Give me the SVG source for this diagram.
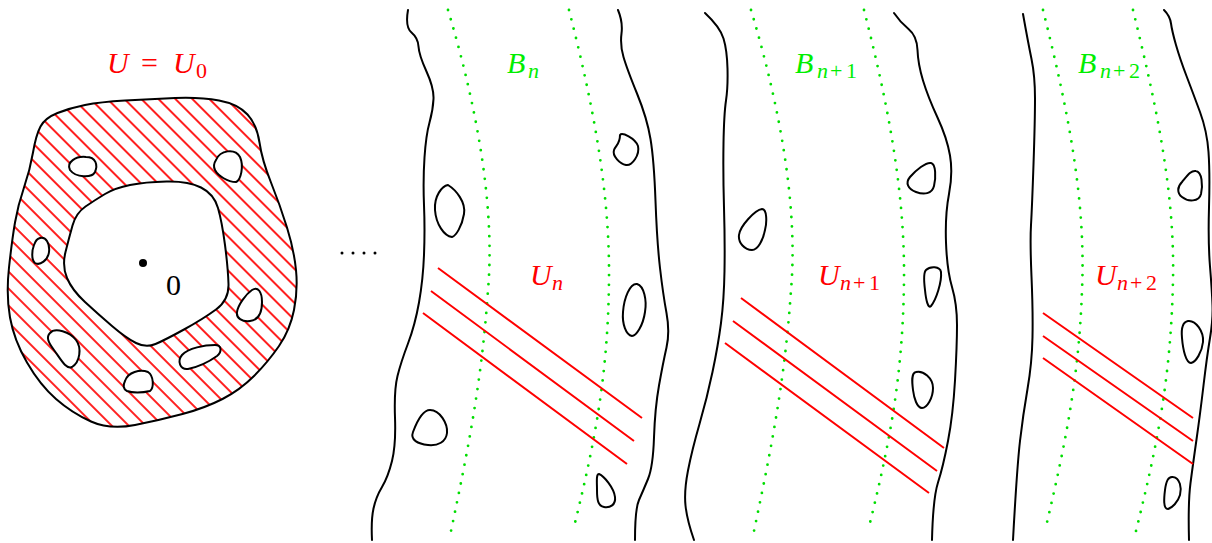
<svg xmlns="http://www.w3.org/2000/svg" width="1212" height="543" viewBox="0 0 1212 543">
<style>
.bk{fill:none;stroke:#000;stroke-width:2;stroke-linejoin:round;stroke-linecap:round}
.hole{fill:#fff;stroke:#000;stroke-width:2;stroke-linejoin:round}
.gr{fill:none;stroke:#00dd00;stroke-width:2.8;stroke-linecap:round;stroke-dasharray:0 9.6}
.rd{fill:none;stroke:#ff0000;stroke-width:2}
.lbl{font-family:"Liberation Serif",serif;font-size:30px}
.it{font-style:italic}
.sub{font-size:22px}
.red{fill:#ff0000}
.grn{fill:#00ee00}
</style>
<defs>
<pattern id="hatch" patternUnits="userSpaceOnUse" width="12" height="12" patternTransform="rotate(-45)">
<rect width="12" height="12" fill="#fff"/>
<line x1="6" y1="-2" x2="6" y2="14" stroke="#ff2020" stroke-width="2"/>
</pattern>
</defs>
<g id="fig-U0">
<path class="bk" style="fill:url(#hatch)" d="M57.5,113 Q70,108 85,105 Q100,102 125,100.5 Q150,99 175,98 Q200,97 219,100.5 Q238,104 247.5,114.5 Q257,125 259.5,142.5 Q262,160 271,182.5 Q280,205 287,227.5 Q294,250 296,270 Q298,290 294,310 Q290,330 279,346 Q268,362 254,376 Q240,390 222.5,399 Q205,408 182.5,414 Q160,420 135,425 Q110,430 91,421.5 Q72,413 56,399 Q40,385 27,362.5 Q14,340 10,317.5 Q6,295 9,267.5 Q12,240 15,222.5 Q18,205 24,187.5 Q30,170 33,152.5 Q36,135 40.5,126.5 Q45,118 57.5,113 Z"/>
<path class="hole" d="M130,185 Q145,182 166.5,181.5 Q188,181 201,187.5 Q214,194 218,208 Q222,222 225,245 Q228,268 228.5,284 Q229,300 216,309.5 Q203,319 184,329.5 Q165,340 155.5,344 Q146,348 136,343 Q126,338 112,326 Q98,314 85,302 Q72,290 67,278 Q62,266 65.5,252 Q69,238 72.5,225.5 Q76,213 85.5,206.5 Q95,200 105,194 Q115,188 130,185 Z"/>
<path class="hole" d="M70,170 C66,162 76,156 86,157 C96,157 98,165 95,172 C92,178 76,178 70,170 Z"/>
<path class="hole" d="M216,160 C220,150 235,148 240,157 C244,166 241,180 236,182 C228,182 218,176 215,170 C213,166 214,163 216,160 Z"/>
<path class="hole" d="M40,238 C46,236 50,244 49,252 C48,260 40,266 35,263 C31,260 32,250 34,245 C36,240 37,239 40,238 Z"/>
<path class="hole" d="M252,290 C258,286 262,292 262,302 C262,314 258,320 250,321 C242,322 236,318 237,312 C238,305 246,294 252,290 Z"/>
<path class="hole" d="M50,333 C55,327 70,332 76,340 C82,348 80,362 72,367 C66,370 60,358 54,350 C48,342 46,337 50,333 Z"/>
<path class="hole" d="M182,355 C188,348 205,345 215,345 C222,345 222,352 217,356 C210,361 198,367 188,369 C180,370 177,361 182,355 Z"/>
<path class="hole" d="M125,381 C128,372 140,369 148,372 C154,376 154,388 150,391 C142,393 132,393 127,391 C123,389 123,385 125,381 Z"/>
<circle cx="143" cy="263" r="4" fill="#000"/>
<text class="lbl" x="166" y="295">0</text>
<text class="lbl red" y="73"><tspan class="it" x="107">U</tspan><tspan x="141">=</tspan><tspan class="it" x="173">U</tspan><tspan class="sub" x="196" y="78">0</tspan></text>
</g>
<g id="ellipsis" fill="#000">
<circle cx="342" cy="253" r="1.5"/><circle cx="353" cy="253" r="1.5"/><circle cx="364" cy="253" r="1.5"/><circle cx="375" cy="253" r="1.5"/>
</g>
<g id="strip-n">
<path class="bk" d="M408,10 Q405,27 411.5,32.5 Q418,38 418.5,46.5 Q419,55 426.5,71.5 Q434,88 433.5,99 Q433,110 429.5,122.5 Q426,135 424.5,157.5 Q423,180 424,205 Q425,230 424,255 Q423,280 419,302.5 Q415,325 408,343.5 Q401,362 397.5,376 Q394,390 395,417.5 Q396,445 392,461 Q388,477 382,487 Q376,497 373.5,508.5 Q371,520 372,540"/>
<path class="bk" d="M618,10 Q623,22 621.5,33.5 Q620,45 623.5,57 Q627,69 637,93.5 Q647,118 650.5,139 Q654,160 655.5,201 Q657,242 660,268 Q663,294 666.5,313 Q670,332 666.5,347.5 Q663,363 659,385.5 Q655,408 654,437.5 Q653,467 648,479 Q643,491 639,500 Q635,509 635,540"/>
<path class="gr" d="M448,10 C478,110 495,210 488,290 C482,380 468,450 451,531"/>
<path class="gr" d="M569,10 C592,100 610,190 609,280 C608,380 593,450 573,531"/>
<path class="rd" d="M438,268 L642,418 M431,291 L634,441 M423,313 L627,464"/>
<path class="hole" d="M448,185 C456,190 466,202 464,214 C462,226 456,236 452,237 C444,236 436,224 435,210 C434,196 442,186 448,185 Z"/>
<path class="hole" d="M620,135 C622,132 635,138 638,146 C640,155 632,166 626,165 C620,164 612,156 614,150 C616,145 620,144 620,135 Z"/>
<path class="hole" d="M637,284 C644,286 647,300 645,312 C643,326 636,336 632,336 C626,335 622,324 623,312 C624,298 630,283 637,284 Z"/>
<path class="hole" d="M430,410 C440,410 448,424 447,433 C446,442 438,446 428,445 C418,444 410,440 413,432 C416,424 422,410 430,410 Z"/>
<path class="hole" d="M599,474 C604,476 614,488 615,497 C616,505 610,508 604,507 C598,506 597,500 597,490 C597,482 596,474 599,474 Z"/>
<text class="lbl grn" y="73"><tspan class="it" x="507">B</tspan><tspan class="it sub" x="528" y="78">n</tspan></text>
<text class="lbl red" y="285"><tspan class="it" x="530">U</tspan><tspan class="it sub" x="552" y="290">n</tspan></text>
</g>
<g id="strip-n1">
<path class="bk" d="M705,13 Q720,27 723.5,38.5 Q727,50 727.5,68.5 Q728,87 726,100.5 Q724,114 723.5,143.5 Q723,173 724,207.5 Q725,242 724.5,271 Q724,300 721,323 Q718,346 712.5,372 Q707,398 699.5,424 Q692,450 688,470.5 Q684,491 685.5,505.5 Q687,520 694,540"/>
<path class="bk" d="M894,13 Q900,22 908.5,29 Q917,36 917.5,50 Q918,64 923,80.5 Q928,97 937.5,117.5 Q947,138 950,155.5 Q953,173 949,194 Q945,215 946,242.5 Q947,270 952,287 Q957,304 957,325 Q957,346 955,380.5 Q953,415 948,441 Q943,467 938,482.5 Q933,498 932,540"/>
<path class="gr" d="M751,10 C781,110 798,210 791,290 C785,380 771,450 754,531"/>
<path class="gr" d="M864,10 C887,100 905,190 904,280 C903,380 888,450 868,531"/>
<path class="rd" d="M741,298 L944,448 M733,321 L937,471 M725,343 L929,493"/>
<path class="hole" d="M762,209 C767,209 767,222 765,230 C763,240 758,250 752,250 C745,250 738,243 739,235 C740,226 755,210 762,209 Z"/>
<path class="hole" d="M931,163 C936,164 936,178 934,186 C932,194 924,195 916,192 C908,189 905,183 910,177 C916,170 926,162 931,163 Z"/>
<path class="hole" d="M926,270 C930,266 940,266 941,272 C942,282 936,300 931,306 C928,309 926,300 925,290 C924,282 923,273 926,270 Z"/>
<path class="hole" d="M916,372 C923,370 933,378 933,388 C933,398 927,408 922,408 C917,408 914,398 913,390 C912,382 911,373 916,372 Z"/>
<text class="lbl grn" y="73"><tspan class="it" x="795">B</tspan><tspan class="it sub" x="817" y="78">n</tspan><tspan class="sub" x="830" y="78">+</tspan><tspan class="sub" x="846" y="78">1</tspan></text>
<text class="lbl red" y="285"><tspan class="it" x="818">U</tspan><tspan class="it sub" x="840" y="290">n</tspan><tspan class="sub" x="853" y="290">+</tspan><tspan class="sub" x="869" y="290">1</tspan></text>
</g>
<g id="strip-n2">
<path class="bk" d="M1023,14 Q1028,42 1031.5,59 Q1035,76 1035,98.5 Q1035,121 1033.5,164.5 Q1032,208 1031,225 Q1030,242 1031.5,276.5 Q1033,311 1032.5,337 Q1032,363 1027.5,389 Q1023,415 1020,441 Q1017,467 1013,540"/>
<path class="bk" d="M1164,10 Q1170,16 1171,23.5 Q1172,31 1176,45 Q1180,59 1186.5,76 Q1193,93 1200,112 Q1207,131 1208.5,152 Q1210,173 1209,207.5 Q1208,242 1210,266.5 Q1212,291 1212.5,305.5 Q1213,320 1210,338 Q1207,356 1203.5,385.5 Q1200,415 1196.5,439.5 Q1193,464 1190.5,483 Q1188,502 1189,540"/>
<path class="gr" d="M1043,10 C1068,110 1086,200 1082,290 C1079,380 1064,450 1045,531"/>
<path class="gr" d="M1133,10 C1155,100 1175,190 1173,280 C1171,380 1156,450 1136,531"/>
<path class="rd" d="M1043,313 L1193,418 M1043,336 L1193,441 M1043,358 L1193,464"/>
<path class="hole" d="M1196,171 C1202,172 1203,185 1201,194 C1199,202 1188,202 1182,197 C1177,193 1177,187 1182,182 C1187,176 1191,170 1196,171 Z"/>
<path class="hole" d="M1188,321 C1196,320 1204,332 1203,342 C1202,352 1196,362 1191,363 C1186,363 1183,350 1182,338 C1181,328 1183,322 1188,321 Z"/>
<path class="hole" d="M1173,477 C1180,478 1182,488 1180,495 C1178,502 1172,508 1168,509 C1163,509 1164,498 1165,490 C1166,482 1168,476 1173,477 Z"/>
<text class="lbl grn" y="73"><tspan class="it" x="1078">B</tspan><tspan class="it sub" x="1100" y="78">n</tspan><tspan class="sub" x="1113" y="78">+</tspan><tspan class="sub" x="1129" y="78">2</tspan></text>
<text class="lbl red" y="285"><tspan class="it" x="1095">U</tspan><tspan class="it sub" x="1117" y="290">n</tspan><tspan class="sub" x="1130" y="290">+</tspan><tspan class="sub" x="1146" y="290">2</tspan></text>
</g>
</svg>
